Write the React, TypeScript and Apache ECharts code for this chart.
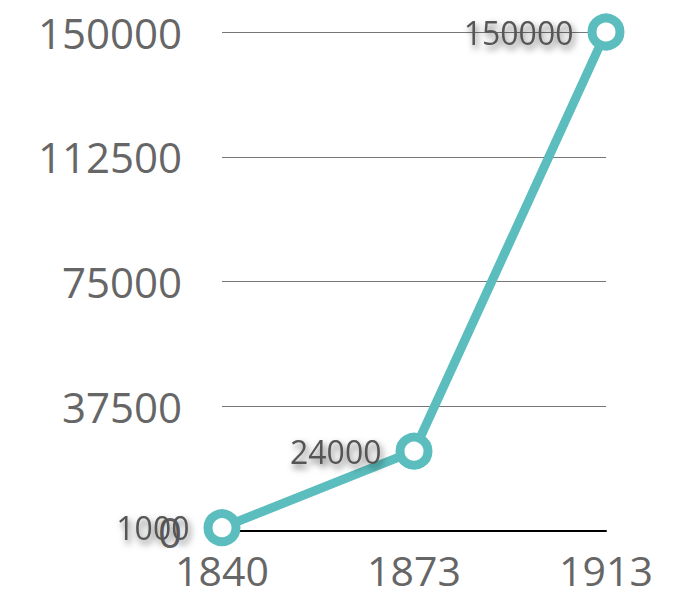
import React, { useEffect, useRef } from "react";
import * as echarts from "echarts";

const categories = ["1840", "1873", "1913"];
const values = [1000, 24000, 150000];
const yTicks = { min: 0, max: 150000, interval: 37500 };

export default function App() {
  const ref = useRef<HTMLDivElement>(null);
  useEffect(() => {
    if (!ref.current) return;
    const chart = echarts.init(ref.current, null, { renderer: "svg" });
    chart.setOption({
      animation: false,
      backgroundColor: "#fff",
      grid: { left: 222, right: 73, top: 32, bottom: 68, containLabel: false },
      xAxis: {
        type: "category",
        data: categories,
        boundaryGap: false,
        axisLine: { show: true, lineStyle: { color: "#000", width: 2 } },
        axisTick: { show: false },
        axisLabel: {
          color: "#666",
          fontFamily: "Open Sans",
          fontSize: 41,
          margin: 18,
        },
      },
      yAxis: {
        type: "value",
        min: yTicks.min,
        max: yTicks.max,
        interval: yTicks.interval,
        axisLine: { show: false },
        axisTick: { show: false },
        splitLine: { lineStyle: { color: "#777", width: 1 } },
        axisLabel: {
          color: "#666",
          fontFamily: "Open Sans",
          fontSize: 42,
          margin: 40,
          formatter: (v: number) => String(v),
        },
      },
      series: [
        {
          type: "line",
          data: values,
          symbol: "circle",
          symbolSize: 28,
          showAllSymbol: true,
          lineStyle: { color: "#5bbdbd", width: 9 },
          itemStyle: { color: "#fff", borderColor: "#5bbdbd", borderWidth: 9 },
          label: {
            show: true,
            position: "left",
            distance: 14,
            color: "#555",
            fontFamily: "Open Sans",
            fontSize: 32,
            textShadowColor: "rgba(0,0,0,0.6)",
            textShadowBlur: 7,
            textShadowOffsetX: 2,
            textShadowOffsetY: 4,
          },
        },
      ],
    });
    return () => chart.dispose();
  }, []);
  return <div ref={ref} style={{ width: 679, height: 599, position: "absolute", left: 0, top: 0 }} />;
}
